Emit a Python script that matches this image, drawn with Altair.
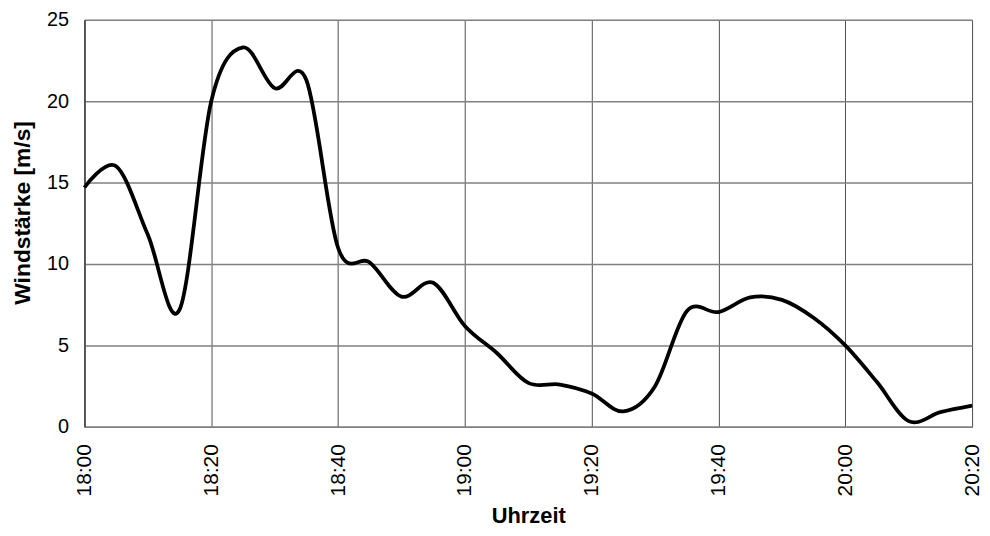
import altair as alt
import pandas as pd

# minutes after 18:00
minutes = [0, 5, 10, 15, 20, 25, 30, 35, 40, 45, 50, 55, 60, 65, 70,
           75, 80, 85, 90, 95, 100, 105, 110, 115, 120, 125, 130, 135, 140]
wind = [14.7, 16.0, 11.8, 7.2, 20.0, 23.3, 20.8, 21.3, 11.0, 10.1, 8.0, 8.85,
        6.2, 4.55, 2.7, 2.6, 2.05, 0.95, 2.5, 7.1, 7.05, 7.95, 7.8, 6.7, 5.0,
        2.75, 0.35, 0.9, 1.3]
x_ticks = [0, 20, 40, 60, 80, 100, 120, 140]
y_ticks = [0, 5, 10, 15, 20, 25]

df = pd.DataFrame({"t": minutes, "v": wind})

FONT = "Liberation Sans"

label_expr = ("(18 + floor(datum.value / 60)) + ':' + "
              "(datum.value % 60 < 10 ? '0' : '') + (datum.value % 60)")

chart = alt.Chart(df).mark_line(
    color="black", strokeWidth=3.8, interpolate="cardinal"
).encode(
    x=alt.X("t:Q",
            scale=alt.Scale(domain=[0, 140], nice=False, zero=False),
            axis=alt.Axis(values=x_ticks, labelExpr=label_expr, labelAngle=270,
                          labelAlign="right", labelBaseline="middle",
                          labelPadding=17, ticks=False,
                          labelFont=FONT, labelFontSize=21, labelColor="black",
                          title="Uhrzeit", titleFont=FONT, titleFontSize=22,
                          titleFontWeight="bold", titleColor="black",
                          titleY=96, titleBaseline="alphabetic",
                          grid=True, gridColor="#505050", gridWidth=1,
                          domainColor="#808080", domainWidth=1.5,
                          labelOverlap=False, labelFlush=False)),
    y=alt.Y("v:Q",
            scale=alt.Scale(domain=[0, 25], nice=False),
            axis=alt.Axis(values=y_ticks, ticks=False, labelPadding=16,
                          labelFont=FONT, labelFontSize=20, labelColor="black",
                          labelBaseline="middle",
                          title="Windstärke [m/s]", titleFont=FONT,
                          titleFontSize=23, titleFontWeight="bold",
                          titleColor="black", titleX=-62, titleY=194,
                          titleAlign="center", titleBaseline="middle",
                          grid=True, gridColor="#808080", gridWidth=1.5,
                          domainColor="#404040", domainWidth=1.5,
                          labelOverlap=False, labelFlush=False)),
).properties(
    width=894, height=410,
    autosize=alt.AutoSizeParams(type="none"),
    padding={"left": 77, "top": 10, "right": 10, "bottom": 100},
).configure_view(
    stroke="#808080", strokeWidth=1.5
).configure(background="white")

chart.save("out.html", embed_options={"renderer": "svg", "actions": False})
